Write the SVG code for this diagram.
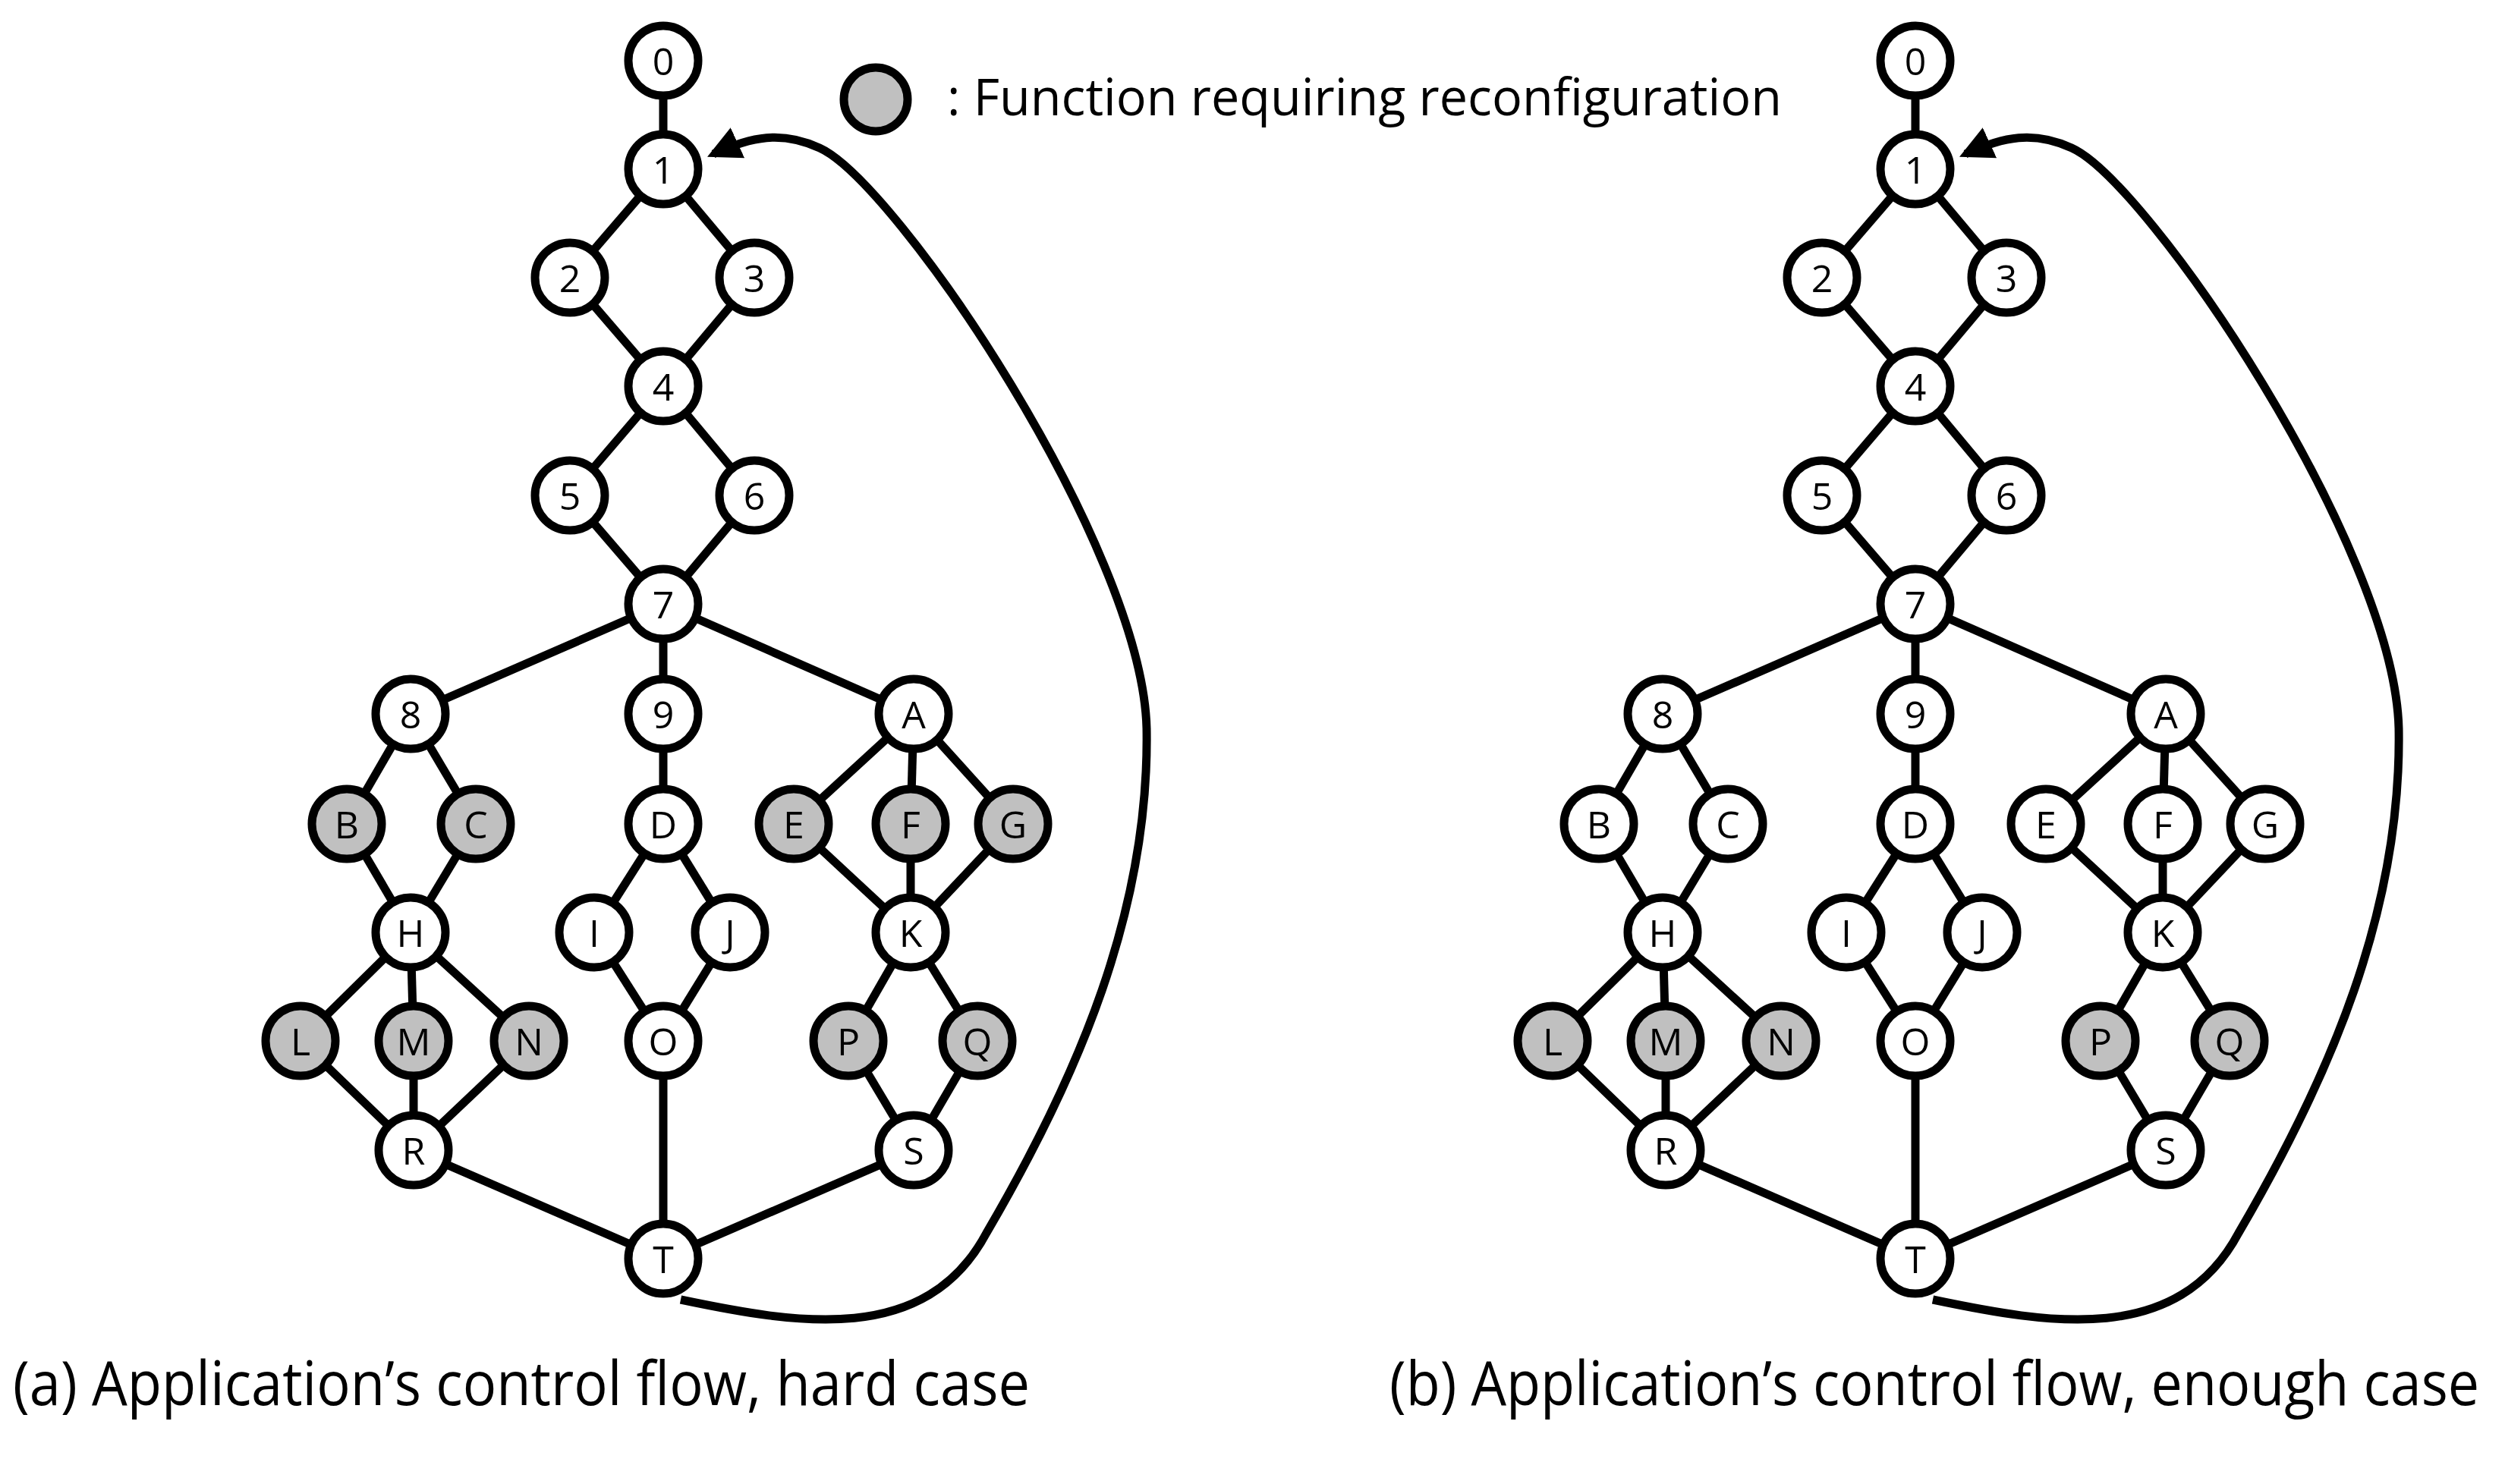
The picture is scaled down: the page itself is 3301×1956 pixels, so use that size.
<svg xmlns="http://www.w3.org/2000/svg" width="3301" height="1956" viewBox="0 0 3301 1956">
<style>
.n circle{fill:#fff;stroke:#000;stroke-width:11}
.g circle{fill:#c0c0c0}
text{font-family:"Open Sans","Liberation Sans",sans-serif;fill:#000}
.n text{font-size:50px;text-anchor:middle;dominant-baseline:central}
.e line,.e path{stroke:#000;stroke-width:11;fill:none}
</style>
<defs>
<marker id="ah" viewBox="0 0 10 10" refX="8" refY="5" markerWidth="4" markerHeight="4" orient="auto" markerUnits="strokeWidth"><path d="M0,0 L10,5 L0,10 z" fill="#000"/></marker>
<g id="panel">
<g class="e">
<line x1="874" y1="80" x2="874" y2="223"/>
<line x1="874" y1="223" x2="751" y2="366"/><line x1="874" y1="223" x2="994" y2="366"/>
<line x1="751" y1="366" x2="874" y2="509"/><line x1="994" y1="366" x2="874" y2="509"/>
<line x1="874" y1="509" x2="751" y2="653"/><line x1="874" y1="509" x2="994" y2="653"/>
<line x1="751" y1="653" x2="874" y2="796"/><line x1="994" y1="653" x2="874" y2="796"/>
<line x1="874" y1="796" x2="541" y2="941"/><line x1="874" y1="796" x2="874" y2="941"/><line x1="874" y1="796" x2="1204" y2="941"/>
<line x1="541" y1="941" x2="457" y2="1086"/><line x1="541" y1="941" x2="627" y2="1086"/>
<line x1="457" y1="1086" x2="541" y2="1229"/><line x1="627" y1="1086" x2="541" y2="1229"/>
<line x1="874" y1="941" x2="874" y2="1086"/>
<line x1="874" y1="1086" x2="783" y2="1229"/><line x1="874" y1="1086" x2="962" y2="1229"/>
<line x1="783" y1="1229" x2="874" y2="1372"/><line x1="962" y1="1229" x2="874" y2="1372"/>
<line x1="1204" y1="941" x2="1046" y2="1086"/><line x1="1204" y1="941" x2="1200" y2="1086"/><line x1="1204" y1="941" x2="1335" y2="1086"/>
<line x1="1046" y1="1086" x2="1200" y2="1229"/><line x1="1200" y1="1086" x2="1200" y2="1229"/><line x1="1335" y1="1086" x2="1200" y2="1229"/>
<line x1="541" y1="1229" x2="396" y2="1372"/><line x1="541" y1="1229" x2="545" y2="1372"/><line x1="541" y1="1229" x2="697" y2="1372"/>
<line x1="396" y1="1372" x2="545" y2="1516"/><line x1="545" y1="1372" x2="545" y2="1516"/><line x1="697" y1="1372" x2="545" y2="1516"/>
<line x1="1200" y1="1229" x2="1118" y2="1372"/><line x1="1200" y1="1229" x2="1288" y2="1372"/>
<line x1="1118" y1="1372" x2="1204" y2="1516"/><line x1="1288" y1="1372" x2="1204" y2="1516"/>
<line x1="874" y1="1372" x2="874" y2="1659"/>
<line x1="545" y1="1516" x2="874" y2="1659"/><line x1="1204" y1="1516" x2="874" y2="1659"/>
<path d="M897 1713 C1050 1745 1220 1775 1300 1625 C1420 1420 1515 1200 1511 960 C1505 720 1180 240 1080 195 C1030 172 990 180 940 203" marker-end="url(#ah)"/>
</g>
</g>
</defs>
<rect width="3301" height="1956" fill="#fff"/>
<use href="#panel"/>
<use href="#panel" x="1650"/>
<g id="legend"><circle cx="1154" cy="131" r="42" fill="#c0c0c0" stroke="#000" stroke-width="11"/>
<text x="1248" y="152" font-size="68" textLength="1100" lengthAdjust="spacingAndGlyphs">: Function requiring reconfiguration</text></g>
<g id="nodes-a">
<g id="a0" class="n"><circle cx="874" cy="80" r="46"/><text x="874" y="80">0</text></g>
<g id="a1" class="n"><circle cx="874" cy="223" r="46"/><text x="874" y="223">1</text></g>
<g id="a2" class="n"><circle cx="751" cy="366" r="46"/><text x="751" y="366">2</text></g>
<g id="a3" class="n"><circle cx="994" cy="366" r="46"/><text x="994" y="366">3</text></g>
<g id="a4" class="n"><circle cx="874" cy="509" r="46"/><text x="874" y="509">4</text></g>
<g id="a5" class="n"><circle cx="751" cy="653" r="46"/><text x="751" y="653">5</text></g>
<g id="a6" class="n"><circle cx="994" cy="653" r="46"/><text x="994" y="653">6</text></g>
<g id="a7" class="n"><circle cx="874" cy="796" r="46"/><text x="874" y="796">7</text></g>
<g id="a8" class="n"><circle cx="541" cy="941" r="46"/><text x="541" y="941">8</text></g>
<g id="a9" class="n"><circle cx="874" cy="941" r="46"/><text x="874" y="941">9</text></g>
<g id="aA" class="n"><circle cx="1204" cy="941" r="46"/><text x="1204" y="941">A</text></g>
<g id="aB" class="n g"><circle cx="457" cy="1086" r="46"/><text x="457" y="1086">B</text></g>
<g id="aC" class="n g"><circle cx="627" cy="1086" r="46"/><text x="627" y="1086">C</text></g>
<g id="aD" class="n"><circle cx="874" cy="1086" r="46"/><text x="874" y="1086">D</text></g>
<g id="aE" class="n g"><circle cx="1046" cy="1086" r="46"/><text x="1046" y="1086">E</text></g>
<g id="aF" class="n g"><circle cx="1200" cy="1086" r="46"/><text x="1200" y="1086">F</text></g>
<g id="aG" class="n g"><circle cx="1335" cy="1086" r="46"/><text x="1335" y="1086">G</text></g>
<g id="aH" class="n"><circle cx="541" cy="1229" r="46"/><text x="541" y="1229">H</text></g>
<g id="aI" class="n"><circle cx="783" cy="1229" r="46"/><text x="783" y="1229">I</text></g>
<g id="aJ" class="n"><circle cx="962" cy="1229" r="46"/><text x="962" y="1229">J</text></g>
<g id="aK" class="n"><circle cx="1200" cy="1229" r="46"/><text x="1200" y="1229">K</text></g>
<g id="aL" class="n g"><circle cx="396" cy="1372" r="46"/><text x="396" y="1372">L</text></g>
<g id="aM" class="n g"><circle cx="545" cy="1372" r="46"/><text x="545" y="1372">M</text></g>
<g id="aN" class="n g"><circle cx="697" cy="1372" r="46"/><text x="697" y="1372">N</text></g>
<g id="aO" class="n"><circle cx="874" cy="1372" r="46"/><text x="874" y="1372">O</text></g>
<g id="aP" class="n g"><circle cx="1118" cy="1372" r="46"/><text x="1118" y="1372">P</text></g>
<g id="aQ" class="n g"><circle cx="1288" cy="1372" r="46"/><text x="1288" y="1372">Q</text></g>
<g id="aR" class="n"><circle cx="545" cy="1516" r="46"/><text x="545" y="1516">R</text></g>
<g id="aS" class="n"><circle cx="1204" cy="1516" r="46"/><text x="1204" y="1516">S</text></g>
<g id="aT" class="n"><circle cx="874" cy="1659" r="46"/><text x="874" y="1659">T</text></g>
</g>
<g id="nodes-b" transform="translate(1650,0)">
<g id="b0" class="n"><circle cx="874" cy="80" r="46"/><text x="874" y="80">0</text></g>
<g id="b1" class="n"><circle cx="874" cy="223" r="46"/><text x="874" y="223">1</text></g>
<g id="b2" class="n"><circle cx="751" cy="366" r="46"/><text x="751" y="366">2</text></g>
<g id="b3" class="n"><circle cx="994" cy="366" r="46"/><text x="994" y="366">3</text></g>
<g id="b4" class="n"><circle cx="874" cy="509" r="46"/><text x="874" y="509">4</text></g>
<g id="b5" class="n"><circle cx="751" cy="653" r="46"/><text x="751" y="653">5</text></g>
<g id="b6" class="n"><circle cx="994" cy="653" r="46"/><text x="994" y="653">6</text></g>
<g id="b7" class="n"><circle cx="874" cy="796" r="46"/><text x="874" y="796">7</text></g>
<g id="b8" class="n"><circle cx="541" cy="941" r="46"/><text x="541" y="941">8</text></g>
<g id="b9" class="n"><circle cx="874" cy="941" r="46"/><text x="874" y="941">9</text></g>
<g id="bA" class="n"><circle cx="1204" cy="941" r="46"/><text x="1204" y="941">A</text></g>
<g id="bB" class="n"><circle cx="457" cy="1086" r="46"/><text x="457" y="1086">B</text></g>
<g id="bC" class="n"><circle cx="627" cy="1086" r="46"/><text x="627" y="1086">C</text></g>
<g id="bD" class="n"><circle cx="874" cy="1086" r="46"/><text x="874" y="1086">D</text></g>
<g id="bE" class="n"><circle cx="1046" cy="1086" r="46"/><text x="1046" y="1086">E</text></g>
<g id="bF" class="n"><circle cx="1200" cy="1086" r="46"/><text x="1200" y="1086">F</text></g>
<g id="bG" class="n"><circle cx="1335" cy="1086" r="46"/><text x="1335" y="1086">G</text></g>
<g id="bH" class="n"><circle cx="541" cy="1229" r="46"/><text x="541" y="1229">H</text></g>
<g id="bI" class="n"><circle cx="783" cy="1229" r="46"/><text x="783" y="1229">I</text></g>
<g id="bJ" class="n"><circle cx="962" cy="1229" r="46"/><text x="962" y="1229">J</text></g>
<g id="bK" class="n"><circle cx="1200" cy="1229" r="46"/><text x="1200" y="1229">K</text></g>
<g id="bL" class="n g"><circle cx="396" cy="1372" r="46"/><text x="396" y="1372">L</text></g>
<g id="bM" class="n g"><circle cx="545" cy="1372" r="46"/><text x="545" y="1372">M</text></g>
<g id="bN" class="n g"><circle cx="697" cy="1372" r="46"/><text x="697" y="1372">N</text></g>
<g id="bO" class="n"><circle cx="874" cy="1372" r="46"/><text x="874" y="1372">O</text></g>
<g id="bP" class="n g"><circle cx="1118" cy="1372" r="46"/><text x="1118" y="1372">P</text></g>
<g id="bQ" class="n g"><circle cx="1288" cy="1372" r="46"/><text x="1288" y="1372">Q</text></g>
<g id="bR" class="n"><circle cx="545" cy="1516" r="46"/><text x="545" y="1516">R</text></g>
<g id="bS" class="n"><circle cx="1204" cy="1516" r="46"/><text x="1204" y="1516">S</text></g>
<g id="bT" class="n"><circle cx="874" cy="1659" r="46"/><text x="874" y="1659">T</text></g>
</g>
<text x="17" y="1852" font-size="80" textLength="1340" lengthAdjust="spacingAndGlyphs">(a) Application’s control flow, hard case</text>
<text x="1831" y="1852" font-size="80" textLength="1436" lengthAdjust="spacingAndGlyphs">(b) Application’s control flow, enough case</text>
</svg>
